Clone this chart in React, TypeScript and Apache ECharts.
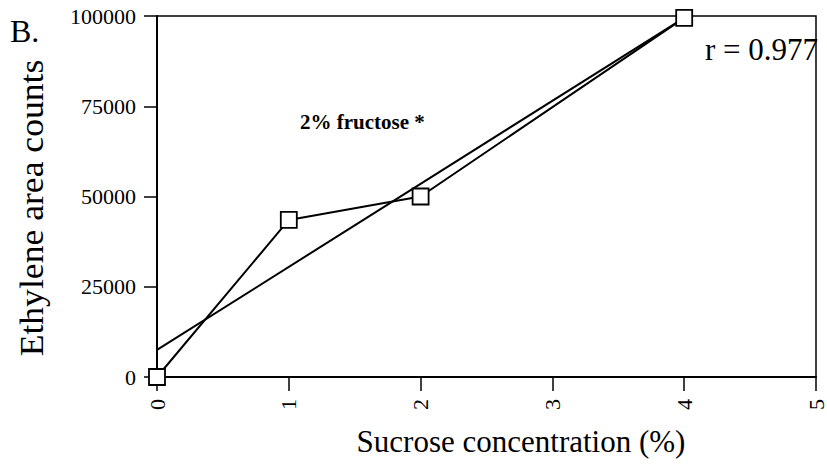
import React, { useEffect, useRef } from "react";
import * as echarts from "echarts";

const xTicks = [0, 1, 2, 3, 4, 5];
const yTicks = [0, 25000, 50000, 75000, 100000];
const sucrose = [0, 1, 2, 4];
const ethylene = [0, 43500, 50000, 99500];
const fitX = [0, 4];
const fitY = [7500, 99500];
const panelLabel = "B.";
const fitLabel = "r = 0.977";
const noteLabel = "2% fructose *";
const xTitle = "Sucrose concentration (%)";
const yTitle = "Ethylene area counts";

const FONT = "'Liberation Serif', 'Times New Roman', serif";

export default function App() {
  const ref = useRef<HTMLDivElement>(null);
  useEffect(() => {
    document.body.style.margin = "0";
    const chart = echarts.init(ref.current!, null, { renderer: "svg" });
    chart.setOption({
      animation: false,
      backgroundColor: "#ffffff",
      grid: {
        left: 157,
        right: 6,
        top: 16,
        bottom: 97,
        show: true,
        borderColor: "#000",
        borderWidth: 1.5,
      },
      xAxis: {
        type: "value",
        min: xTicks[0],
        max: xTicks[xTicks.length - 1],
        interval: 1,
        axisLine: { lineStyle: { color: "#000", width: 2 } },
        axisTick: { show: true, length: 14, lineStyle: { color: "#000", width: 1.5 } },
        axisLabel: {
          rotate: 90,
          margin: 22,
          color: "#000",
          fontFamily: FONT,
          fontSize: 22,
          showMaxLabel: true,
          showMinLabel: true,
          formatter: (v: number) => String(v),
        },
        splitLine: { show: false },
      },
      yAxis: {
        type: "value",
        min: yTicks[0],
        max: yTicks[yTicks.length - 1],
        interval: 25000,
        axisLine: { show: true, lineStyle: { color: "#000", width: 2 } },
        axisTick: { show: true, length: 13, lineStyle: { color: "#000", width: 1.5 } },
        axisLabel: {
          margin: 21,
          color: "#000",
          fontFamily: FONT,
          fontSize: 22,
          formatter: (v: number) => String(v),
        },
        splitLine: { show: false },
      },
      series: [
        {
          type: "line",
          data: sucrose.map((x, i) => [x, ethylene[i]]),
          symbol: "rect",
          symbolSize: 16,
          lineStyle: { color: "#000", width: 2 },
          itemStyle: { color: "#fff", borderColor: "#000", borderWidth: 1.8 },
          z: 3,
        },
        {
          type: "line",
          data: fitX.map((x, i) => [x, fitY[i]]),
          symbol: "none",
          lineStyle: { color: "#000", width: 2 },
          z: 2,
        },
      ],
      graphic: [
        {
          type: "text",
          x: 10,
          y: 31,
          style: { text: panelLabel, font: `32px ${FONT}`, fill: "#000", verticalAlign: "middle" },
        },
        {
          type: "text",
          x: 705,
          y: 49,
          style: { text: fitLabel, font: `31px ${FONT}`, fill: "#000", verticalAlign: "middle" },
        },
        {
          type: "text",
          x: 300,
          y: 122,
          style: { text: noteLabel, font: `bold 21px ${FONT}`, fill: "#000", verticalAlign: "middle" },
        },
        {
          type: "text",
          x: 521,
          y: 441,
          style: {
            text: xTitle,
            font: `31px ${FONT}`,
            fill: "#000",
            align: "center",
            verticalAlign: "middle",
          },
        },
        {
          type: "text",
          x: 31,
          y: 208,
          rotation: Math.PI / 2,
          scaleX: 1.08,
          style: {
            text: yTitle,
            font: `33px ${FONT}`,
            fill: "#000",
            align: "center",
            verticalAlign: "middle",
          },
        },
      ],
    });
    return () => chart.dispose();
  }, []);
  return (
    <div
      ref={ref}
      style={{ width: 827, height: 474, position: "absolute", left: 0, top: 0 }}
    />
  );
}
